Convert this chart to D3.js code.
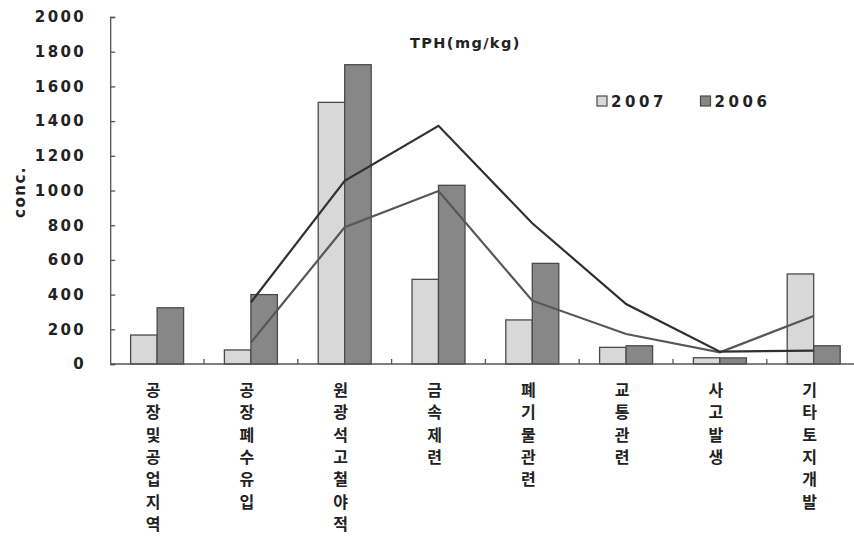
<!DOCTYPE html>
<html><head><meta charset="utf-8">
<script src="https://cdn.jsdelivr.net/npm/d3@7"></script>
<style>
html,body{margin:0;padding:0;background:#fff;}
svg{display:block;}
</style></head>
<body>
<svg id="chart" width="854" height="537"></svg>
<script>
const categories = ["공장및공업지역","공장폐수유입","원광석고철야적","금속제련","폐기물관련","교통관련","사고발생","기타토지개발"];
const series = ["2007","2006"];
const values2007 = [167, 81, 1508, 488, 254, 96, 36, 519];
const values2006 = [324, 400, 1725, 1030, 580, 105, 35, 105];
// trend lines (null = no point)
const line2006 = [null, 355, 1056, 1373, 811, 346, 71, 77];
const line2007 = [null, 123, 788, 997, 365, 173, 67, 277];
const yTicks = [0,200,400,600,800,1000,1200,1400,1600,1800,2000];

(function(){
const svg = d3.select("#chart");
const left = 110.2, step = 93.8, plotTop = 17, plotBottom = 364;
const x0 = d3.scaleBand().domain(categories).range([left, left + step*categories.length]).paddingInner(0).paddingOuter(0);
const x1 = d3.scaleBand().domain(series).range([0, x0.bandwidth()]).paddingInner(0).paddingOuter(0.77);
const y = d3.scaleLinear().domain([0,2000]).range([plotBottom, plotTop]);

const fills = {"2007":"#d8d8d8","2006":"#878787"};
const data = categories.map((c,i)=>({cat:c, v:{"2007":values2007[i],"2006":values2006[i]}}));

// bars
const g = svg.append("g");
data.forEach(d=>{
  series.forEach(s=>{
    g.append("rect")
      .attr("x", x0(d.cat)+x1(s))
      .attr("y", y(d.v[s]))
      .attr("width", x1.bandwidth())
      .attr("height", plotBottom - y(d.v[s]))
      .attr("fill", fills[s])
      .attr("stroke", "#4a4a4a")
      .attr("stroke-width", 1.3);
  });
});

// lines
const lineGen = d3.line()
  .defined(d=>d.v!==null)
  .x(d=>x0(d.cat)+x0.bandwidth()/2)
  .y(d=>y(d.v));
svg.append("path")
  .datum(categories.map((c,i)=>({cat:c,v:line2007[i]})))
  .attr("d", lineGen).attr("fill","none").attr("stroke","#575757").attr("stroke-width",2.2);
svg.append("path")
  .datum(categories.map((c,i)=>({cat:c,v:line2006[i]})))
  .attr("d", lineGen).attr("fill","none").attr("stroke","#303030").attr("stroke-width",2.2);

// y axis
const yAxis = d3.axisLeft(y).tickValues(yTicks).tickSize(-5).tickPadding(24).tickFormat(d3.format("d"));
const ya = svg.append("g").attr("transform",`translate(${left},0)`).call(yAxis);
ya.select(".domain").attr("stroke","#555").attr("stroke-width",1.3);
ya.selectAll(".tick line").attr("stroke","#555").attr("stroke-width",1.3);
ya.selectAll(".tick text")
  .attr("font-family","DejaVu Sans").attr("font-weight","bold").attr("font-size","15px")
  .attr("letter-spacing","2.4px").attr("fill","#222");

// x axis (category boundaries)
svg.append("line").attr("x1",left).attr("x2",left+step*categories.length)
  .attr("y1",plotBottom).attr("y2",plotBottom).attr("stroke","#555").attr("stroke-width",1.3);
categories.forEach((c,i)=>{
  if(i===0) return;
  svg.append("line").attr("x1",x0(c)).attr("x2",x0(c)).attr("y1",plotBottom).attr("y2",plotBottom-5)
    .attr("stroke","#555").attr("stroke-width",1.3);
});
svg.append("line").attr("x1",left+step*8).attr("x2",left+step*8).attr("y1",plotBottom).attr("y2",plotBottom-5)
  .attr("stroke","#555").attr("stroke-width",1.3);

// category labels, vertical stacked
categories.forEach(c=>{
  const cx = x0(c)+x0.bandwidth()/2 - 4;
  const t = svg.append("text").attr("text-anchor","middle")
    .attr("font-family","Noto Sans CJK KR").attr("font-weight","bold").attr("font-size","16px").attr("fill","#222");
  Array.from(c).forEach((ch,k)=>{
    t.append("tspan").attr("x",cx).attr("y",396 + k*22.3).text(ch);
  });
});

// y label
svg.append("text").attr("transform","translate(25,192) rotate(-90)")
  .attr("text-anchor","middle").attr("font-family","DejaVu Sans").attr("font-weight","bold")
  .attr("font-size","15px").attr("letter-spacing","1.5px").attr("fill","#222").text("conc.");

// title
svg.append("text").attr("x",410).attr("y",48)
  .attr("font-family","DejaVu Sans").attr("font-weight","bold").attr("font-size","14.5px")
  .attr("letter-spacing","1.4px").attr("fill","#222").text("TPH(mg/kg)");

// legend
const legX = [597, 700.5];
series.forEach((s,i)=>{
  svg.append("rect").attr("x",legX[i]).attr("y",96).attr("width",10).attr("height",10)
    .attr("fill",fills[s]).attr("stroke","#4a4a4a").attr("stroke-width",1.2);
  svg.append("text").attr("x",legX[i]+14).attr("y",107)
    .attr("font-family","DejaVu Sans").attr("font-weight","bold").attr("font-size","15px")
    .attr("letter-spacing","3.6px").attr("fill","#222").text(s);
});
})();
</script>
</body></html>
